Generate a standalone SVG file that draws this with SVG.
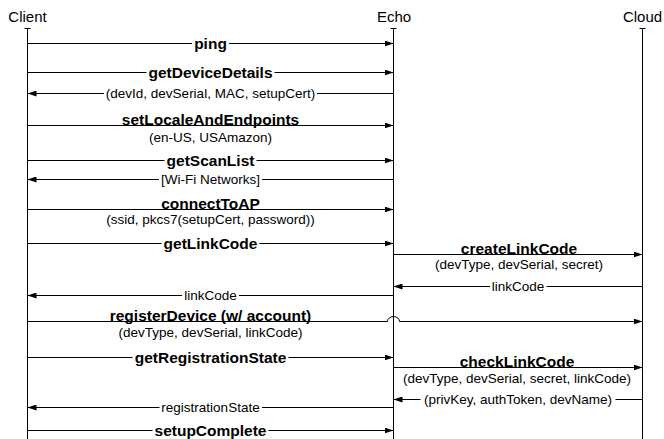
<svg xmlns="http://www.w3.org/2000/svg" width="664" height="439" viewBox="0 0 664 439">
  <style>
    .hdr { font-family: "Liberation Sans", Arial, sans-serif; font-size: 15px; fill: #000; text-anchor: middle; }
    .b { font-family: "Liberation Sans", Arial, sans-serif; font-size: 15.5px; font-weight: bold; fill: #000; text-anchor: middle; }
    .r { font-family: "Liberation Sans", Arial, sans-serif; font-size: 13.5px; fill: #000; text-anchor: middle; }
    .life { stroke: #000; stroke-width: 1; fill: none; }
    .msg { stroke: #000; stroke-width: 1; fill: none; marker-end: url(#arrow); }
    .bg { fill: #fff; }
  </style>
  <defs>
    <marker id="arrow" markerUnits="userSpaceOnUse" markerWidth="10" markerHeight="6" refX="9" refY="3" orient="auto">
      <path d="M0,0 L9,3 L0,6 z" fill="#000"/>
    </marker>
  </defs>
  <rect width="664" height="439" fill="#fff"/>

  <g id="client">
    <text class="hdr" x="27.5" y="22">Client</text>
    <path class="life" d="M24.5,28.5 H30.5 M27.5,28.5 V439"/>
  </g>
  <g id="echo">
    <text class="hdr" x="394" y="22">Echo</text>
    <path class="life" d="M390.5,28.5 H396.5 M393.5,28.5 V439"/>
  </g>
  <g id="cloud">
    <text class="hdr" x="642.5" y="22">Cloud</text>
    <path class="life" d="M639.5,28.5 H645.5 M642.5,28.5 V439"/>
  </g>

  <g id="connectors">
    <path class="msg" d="M27.5,43.5 H393.5"/>
    <path class="msg" d="M27.5,72.5 H393.5"/>
    <path class="msg" d="M393.5,93.5 H27.5"/>
    <path class="msg" d="M27.5,125.5 H393.5"/>
    <path class="msg" d="M27.5,160.5 H393.5"/>
    <path class="msg" d="M393.5,179.5 H27.5"/>
    <path class="msg" d="M27.5,209.5 H393.5"/>
    <path class="msg" d="M27.5,243.5 H393.5"/>
    <path class="msg" d="M393.5,254.5 H642.5"/>
    <path class="msg" d="M642.5,286.5 H393.5"/>
    <path class="msg" d="M393.5,295.5 H27.5"/>
    <path class="msg" d="M27.5,321.5 H387.5 A6,5 0 0 1 399.5,321.5 H642.5"/>
    <path class="msg" d="M27.5,357.5 H393.5"/>
    <path class="msg" d="M393.5,367.5 H642.5"/>
    <path class="msg" d="M642.5,399.5 H393.5"/>
    <path class="msg" d="M393.5,407.5 H27.5"/>
    <path class="msg" d="M27.5,430.5 H393.5"/>
  </g>

  <g id="labels">
    <!-- on-line label backgrounds -->
    <rect class="bg" x="192" y="39" width="37" height="9"/>
    <rect class="bg" x="146.5" y="68" width="128" height="9"/>
    <rect class="bg" x="104" y="89" width="213" height="9"/>
    <rect class="bg" x="164.5" y="156" width="92" height="9"/>
    <rect class="bg" x="159" y="175" width="103" height="9"/>
    <rect class="bg" x="161.5" y="239" width="98" height="9"/>
    <rect class="bg" x="490" y="282" width="56.5" height="9"/>
    <rect class="bg" x="182" y="291" width="57" height="9"/>
    <rect class="bg" x="132.5" y="353" width="156" height="9"/>
    <rect class="bg" x="420.5" y="395" width="195" height="9"/>
    <rect class="bg" x="159.5" y="403" width="102.5" height="9"/>
    <rect class="bg" x="152.5" y="426" width="116" height="9"/>

    <text class="b" x="210.5" y="49">ping</text>
    <text class="b" x="210.5" y="78">getDeviceDetails</text>
    <text class="r" x="210.5" y="98.3">(devId, devSerial, MAC, setupCert)</text>
    <text class="b" x="210.5" y="125">setLocaleAndEndpoints</text>
    <text class="r" x="210.5" y="141.5">(en-US, USAmazon)</text>
    <text class="b" x="210.5" y="166">getScanList</text>
    <text class="r" x="210.5" y="184.3">[Wi-Fi Networks]</text>
    <text class="b" x="210.5" y="208.5">connectToAP</text>
    <text class="r" x="210.5" y="224">(ssid, pkcs7(setupCert, password))</text>
    <text class="b" x="210.5" y="249">getLinkCode</text>
    <text class="b" x="519" y="253.5">createLinkCode</text>
    <text class="r" x="519" y="269">(devType, devSerial, secret)</text>
    <text class="r" x="518" y="291.3">linkCode</text>
    <text class="r" x="210.5" y="300.3">linkCode</text>
    <text class="b" x="210.5" y="320.5">registerDevice (w/ account)</text>
    <text class="r" x="210.5" y="336.5">(devType, devSerial, linkCode)</text>
    <text class="b" x="210.5" y="363">getRegistrationState</text>
    <text class="b" x="517" y="366.5">checkLinkCode</text>
    <text class="r" x="517" y="383">(devType, devSerial, secret, linkCode)</text>
    <text class="r" x="518" y="404.3">(privKey, authToken, devName)</text>
    <text class="r" x="210.5" y="412.3">registrationState</text>
    <text class="b" x="210.5" y="436">setupComplete</text>
  </g>
</svg>
